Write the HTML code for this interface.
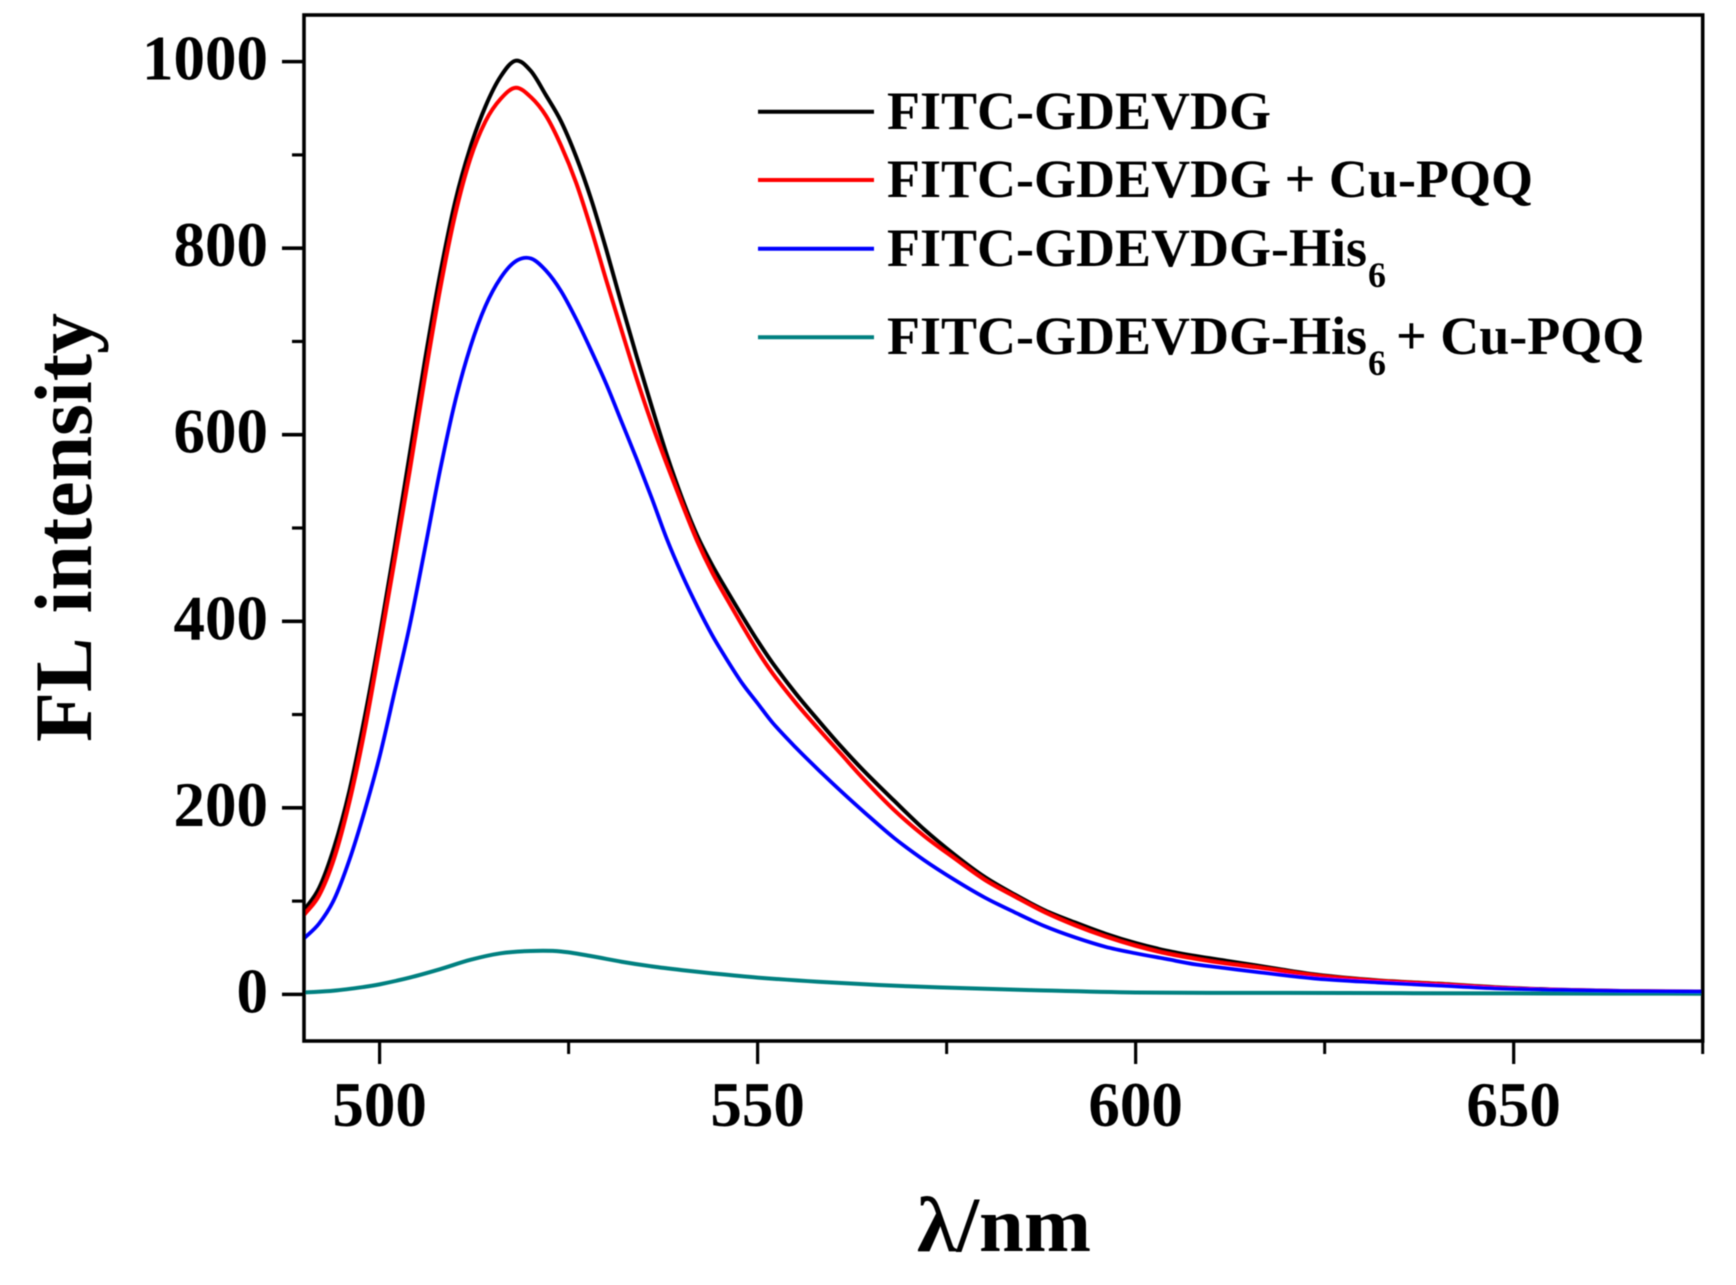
<!DOCTYPE html>
<html lang="en">
<head>
<meta charset="utf-8">
<title>FL intensity spectra</title>
<style>
html,body{margin:0;padding:0;background:#fff;}
svg{display:block;}
text{font-family:"Liberation Serif",serif;font-weight:bold;fill:#000;}
</style>
</head>
<body>
<svg id="chart" xmlns="http://www.w3.org/2000/svg" width="1736" height="1285" viewBox="0 0 1736 1285">
  <defs>
    <filter id="soft" x="-5%" y="-5%" width="110%" height="110%"><feGaussianBlur stdDeviation="0.55"/></filter>
  </defs>
  <rect x="0" y="0" width="1736" height="1285" fill="#fff"/>
  <g id="root" filter="url(#soft)">
    <g id="ticks"></g>
    <g id="series"></g>
    <rect x="304" y="15" width="1398.7" height="1026" fill="none" stroke="#000" stroke-width="3.6"/>
    <g id="labels"></g>
    <text transform="translate(91,742) rotate(-90)" font-size="82" word-spacing="8" textLength="429" lengthAdjust="spacingAndGlyphs">FL intensity</text>
    <text x="917" y="1251" font-size="78" textLength="174" lengthAdjust="spacingAndGlyphs">λ/nm</text>
    <g>
      <g>
        <line x1="758" x2="874" y1="111.7" y2="111.7" stroke="#000" stroke-width="4"/>
        <text x="887" y="129" font-size="54">FITC-GDEVDG</text>
      </g>
      <g>
        <line x1="758" x2="874" y1="180" y2="180" stroke="#f00" stroke-width="4"/>
        <text x="887" y="197" font-size="54" textLength="646" lengthAdjust="spacingAndGlyphs">FITC-GDEVDG + Cu-PQQ</text>
      </g>
      <g>
        <line x1="758" x2="874" y1="248.7" y2="248.7" stroke="#00f" stroke-width="4"/>
        <text x="887" y="266" font-size="54">FITC-GDEVDG-His<tspan x="1368" y="287" font-size="36">6</tspan></text>
      </g>
      <g>
        <line x1="758" x2="874" y1="337.3" y2="337.3" stroke="#008080" stroke-width="4"/>
        <text x="887" y="354" font-size="54">FITC-GDEVDG-His<tspan x="1368" y="375" font-size="36">6</tspan><tspan x="1396" y="354">+ Cu-PQQ</tspan></text>
      </g>
    </g>
  </g>
</svg>
<script>
const xMajorTicks = [500, 550, 600, 650];
const xMinorTicks = [525, 575, 625, 675];
const yMajorTicks = [0, 200, 400, 600, 800, 1000];
const yMinorTicks = [100, 300, 500, 700, 900];

const wavelengths = [490,492,494,496,498,500,502,504,506,508,510,512,514,516,518,520,522,524,526,528,530,532,534,536,538,540,542,544,546,548,550,552,555,558,561,564,568,572,576,580,584,588,592,596,600,604,608,612,616,624,632,640,648,656,665,675];
const blackValues = [90,114,158,218,296,384,480,580,680,772,850,908,952,984,1001,990,964,936,898,852,798,740,684,630,578,532,492,460,432,405,379,355,323,294,266,240,208,177,150,126,107,90,77,65,55,47,41,36,31,21,15,11.5,7.5,5,3.5,3];
const redValues = [85,106,146,206,282,372,466,562,662,756,836,896,936,960,972,962,942,910,870,820,765,712,660,612,568,526,486,452,423,395,368,344,313,285,258,231,198,170,146,123,105,88,74,62,52,44,38,33,29,20,14.5,11,7,5,3.5,3];
const blueValues = [60,76,102,144,196,255,325,396,478,562,636,694,738,768,786,789,776,754,724,690,654,614,574,532,488,450,416,385,358,333,312,291,265,241,218,196,168,144,123,104,88,73,61,51,44,38,32,28,24,16.8,12.8,9.5,6.3,4.8,3.5,3];
const tealNm = [490,494,498,500,504,508,512,516,520,524,528,532,536,540,544,550,558,566,574,586,600,620,650,675];
const tealValues = [2,4,8,10.7,18,27,37,44,46.5,46,41,35,30,26,22.5,18,13.5,10,7.5,4.6,2,1.6,1,0.7];

const xMin = 490, xMax = 675, yMin = -50, yMax = 1050;
function sx(v){ return 304 + (v - xMin) / (xMax - xMin) * 1398.7; }
function sy(v){ return 1041 - (v - yMin) / (yMax - yMin) * 1026; }

const SVGNS = 'http://www.w3.org/2000/svg';
const tickGroup = document.getElementById('ticks');
const labelGroup = document.getElementById('labels');
const seriesGroup = document.getElementById('series');

function tickLine(x1, y1, x2, y2, w){
  const l = document.createElementNS(SVGNS, 'line');
  l.setAttribute('x1', x1);
  l.setAttribute('y1', y1);
  l.setAttribute('x2', x2);
  l.setAttribute('y2', y2);
  l.setAttribute('stroke', '#000');
  l.setAttribute('stroke-width', w);
  tickGroup.appendChild(l);
  return l;
}
function tickText(str, x, y, anchor){
  const t = document.createElementNS(SVGNS, 'text');
  t.setAttribute('x', x);
  t.setAttribute('y', y);
  t.setAttribute('font-size', '63');
  t.setAttribute('text-anchor', anchor);
  t.textContent = str;
  labelGroup.appendChild(t);
  return t;
}

xMajorTicks.forEach(function(v){
  const l = tickLine(sx(v), 1041, sx(v), 1064, 3.2);
  
  
  const t = tickText(String(v), sx(v), 1126, 'middle');
  
  
});
xMinorTicks.forEach(function(v){
  const l = tickLine(sx(v), 1041, sx(v), 1054, 3);
  
  
});
yMajorTicks.forEach(function(v){
  const l = tickLine(282, sy(v), 304, sy(v), 3.6);
  
  
  const t = tickText(String(v), 268, sy(v) + 18, 'end');
  
  
});
yMinorTicks.forEach(function(v){
  const l = tickLine(292, sy(v), 304, sy(v), 3.2);
  
  
});

function smoothPath(xs, ys){
  const n = xs.length;
  const m = [];
  for (let i = 0; i < n; i++) {
    const a = Math.max(i - 1, 0), b = Math.min(i + 1, n - 1);
    m.push((ys[b] - ys[a]) / (xs[b] - xs[a]));
  }
  let p = 'M' + xs[0].toFixed(2) + ' ' + ys[0].toFixed(2);
  for (let i = 0; i < n - 1; i++) {
    const h = (xs[i+1] - xs[i]) / 3;
    p += 'C' + (xs[i] + h).toFixed(2) + ' ' + (ys[i] + m[i] * h).toFixed(2) + ' ' +
         (xs[i+1] - h).toFixed(2) + ' ' + (ys[i+1] - m[i+1] * h).toFixed(2) + ' ' +
         xs[i+1].toFixed(2) + ' ' + ys[i+1].toFixed(2);
  }
  return p;
}
function drawSeries(nm, vals, color, width){
  const p = document.createElementNS(SVGNS, 'path');
  p.setAttribute('d', smoothPath(nm.map(sx), vals.map(sy)));
  p.setAttribute('fill', 'none');
  p.setAttribute('stroke', color);
  p.setAttribute('stroke-width', width);
  p.setAttribute('stroke-linejoin', 'round');
  seriesGroup.appendChild(p);
  return p;
}
const lineBlack = drawSeries(wavelengths, blackValues, '#000', 4);


const lineRed = drawSeries(wavelengths, redValues, '#f00', 4);


const lineTeal = drawSeries(tealNm, tealValues, '#008080', 4);


const lineBlue = drawSeries(wavelengths, blueValues, '#00f', 3.8);


</script>
</body>
</html>
